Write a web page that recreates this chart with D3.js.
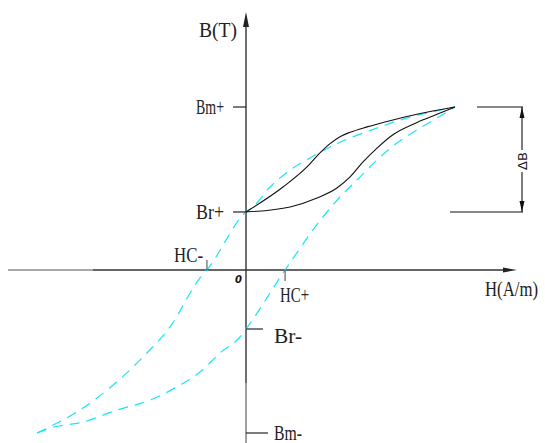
<!DOCTYPE html>
<html>
<head>
<meta charset="utf-8">
<script src="https://cdn.jsdelivr.net/npm/d3@7"></script>
<style>
  html, body { margin: 0; padding: 0; background: #fff; overflow: hidden; }
  #wrap { position: relative; width: 545px; height: 443px; }
  svg { display: block; position: absolute; left: 0; top: 0; }
  .lbl {
    position: absolute; white-space: nowrap;
    font-family: "Liberation Serif", "DejaVu Serif", serif;
    font-size: 20px; line-height: 20px; color: #222;
    transform-origin: 0 0;
  }
</style>
</head>
<body>
<div id="wrap"><svg id="chart" width="545" height="443"></svg></div>
<script>
// Field strength H (relative units, saturation = ±100) and induction B (relative, Bm = ±1)

// Major hysteresis loop, descending branch (from +saturation to -saturation)
const majorDownH = [-100, -90.4, -80.9, -71.3, -49.3, -36.4, -22, -18.7, 0, 3.3, 11.5, 21.1, 30.6, 40.2, 49.8, 62.7, 73.7, 84.7, 100];
const majorDownB = [-1.0, -0.939, -0.871, -0.785, -0.534, -0.35, -0.049, 0, 0.356, 0.387, 0.509, 0.613, 0.687, 0.755, 0.81, 0.871, 0.92, 0.957, 1.0];

// Major hysteresis loop, ascending branch (from -saturation to +saturation)
const majorUpH = [-100, -93.8, -78, -61.7, -45.9, -31.6, -22, -12.4, -2.9, 0, 18.7, 36.4, 45, 53.1, 62.7, 72.2, 81.8, 91.4, 100];
const majorUpB = [-1.0, -0.97, -0.933, -0.859, -0.798, -0.706, -0.626, -0.509, -0.411, -0.362, 0, 0.319, 0.448, 0.552, 0.675, 0.779, 0.859, 0.933, 1.0];

// Minor loop between Br+ and Bm+
const minorUpperH = [0, 17.7, 29.2, 35.4, 40.2, 45, 49.8, 57.9, 68.9, 81.8, 100];
const minorUpperB = [0.356, 0.509, 0.632, 0.718, 0.775, 0.818, 0.845, 0.878, 0.916, 0.955, 1.0];
const minorLowerH = [0, 21.1, 34, 43.5, 49.8, 56, 62.7, 70.3, 81.8, 91.4, 100];
const minorLowerB = [0.356, 0.387, 0.442, 0.503, 0.571, 0.663, 0.748, 0.83, 0.905, 0.955, 1.0];

// Characteristic points marked on the axes
const bTickLabels = ["Bm+", "Br+", "Br-", "Bm-"];
const bTickValues = [1.0, 0.356, -0.362, -1.0];
const hTickLabels = ["HC-", "HC+"];
const hTickValues = [-18.7, 18.7];

// Swing marked by the dimension line
const deltaTop = 1.0, deltaBottom = 0.356;

const svg = d3.select("#chart");
const wrap = d3.select("#wrap");
const x = d3.scaleLinear().domain([-100, 100]).range([37, 455]);
const y = d3.scaleLinear().domain([-1, 1]).range([433, 107]);
const x0 = x(0), y0 = y(0);

const axisColor = "#333";
const cyan = "#18e6f6";

// Condensed serif label: left edge at lx, baseline at ly, squeezed horizontally to `width`
const BASELINE = 16.75; // baseline offset inside a 20px line box for Liberation Serif
function label(txt, lx, ly, width) {
  const d = wrap.append("div").attr("class", "lbl").text(txt);
  const w = d.node().getBoundingClientRect().width;
  d.style("left", lx + "px")
   .style("top", (ly - BASELINE) + "px")
   .style("transform", `scaleX(${width / w})`);
  return d;
}

// ---- axes ----
svg.append("line").attr("x1", 8).attr("x2", 93).attr("y1", y0).attr("y2", y0)
  .attr("stroke", "#8a8a8a").attr("stroke-width", 1.4);
svg.append("line").attr("x1", 93).attr("x2", 506).attr("y1", y0).attr("y2", y0)
  .attr("stroke", axisColor).attr("stroke-width", 1.4);
svg.append("path").attr("d", `M517,${y0} L503,${y0 - 2.5} L503,${y0 + 2.5} Z`).attr("fill", "#222");

svg.append("line").attr("x1", x0).attr("x2", x0).attr("y1", 24).attr("y2", 383)
  .attr("stroke", axisColor).attr("stroke-width", 1.4);
svg.append("line").attr("x1", x0).attr("x2", x0).attr("y1", 383).attr("y2", 443)
  .attr("stroke", "#7a7a7a").attr("stroke-width", 1.4);
svg.append("path").attr("d", `M${x0},12 L${x0 - 3},27 L${x0 + 3},27 Z`).attr("fill", "#222");

// ---- curves ----
const line = d3.line().x(d => x(d[0])).y(d => y(d[1])).curve(d3.curveMonotoneX);
const zip = (a, b) => a.map((v, i) => [v, b[i]]);

[[majorDownH, majorDownB], [majorUpH, majorUpB]].forEach(([h, b]) => {
  svg.append("path").datum(zip(h, b)).attr("d", line)
    .attr("fill", "none").attr("stroke", cyan).attr("stroke-width", 1.2)
    .attr("stroke-dasharray", "10,7");
});
[[minorUpperH, minorUpperB], [minorLowerH, minorLowerB]].forEach(([h, b]) => {
  svg.append("path").datum(zip(h, b)).attr("d", line)
    .attr("fill", "none").attr("stroke", "#111").attr("stroke-width", 1.1);
});

// ---- B-axis marks ----
bTickLabels.forEach((lab, i) => {
  const v = bTickValues[i];
  const yy = y(v);
  const pos = v > 0;
  const sat = Math.abs(v) > 0.9;
  const len = pos ? 13 : (sat ? 22 : 17);
  svg.append("line")
    .attr("x1", pos ? x0 - len : x0).attr("x2", pos ? x0 : x0 + len)
    .attr("y1", yy).attr("y2", yy)
    .attr("stroke", "#111").attr("stroke-width", 1.1);
  const ly = pos ? yy + 7 : (sat ? yy + 7 : yy + 14);
  label(lab, pos ? 196 : 274, ly, 28);
});

// ---- H-axis marks ----
hTickLabels.forEach((lab, i) => {
  const v = hTickValues[i];
  const xx = x(v);
  const neg = v < 0;
  svg.append("line")
    .attr("x1", xx).attr("x2", xx)
    .attr("y1", neg ? y0 - 10 : y0).attr("y2", neg ? y0 : y0 + 11)
    .attr("stroke", "#555").attr("stroke-width", 1.1);
  label(lab, neg ? xx - 33 : xx - 5, neg ? y0 - 8 : y0 + 32, 29);
});

// origin
svg.append("text")
  .attr("x", 235).attr("y", 283)
  .attr("font-family", "DejaVu Sans, sans-serif").attr("font-style", "italic")
  .attr("font-weight", "bold")
  .attr("font-size", 10).attr("fill", "#111")
  .text("0");

// axis titles
label("B(T)", 199, 37, 38);
label("H(A/m)", 485, 296, 53);

// ---- ΔB dimension ----
const yTop = y(deltaTop), yBot = y(deltaBottom);
const dimX = 522;
svg.append("line").attr("x1", 477).attr("x2", dimX + 1).attr("y1", yTop).attr("y2", yTop)
  .attr("stroke", "#111").attr("stroke-width", 1.1);
svg.append("line").attr("x1", 450).attr("x2", dimX + 1).attr("y1", yBot).attr("y2", yBot)
  .attr("stroke", "#111").attr("stroke-width", 1.1);
svg.append("line").attr("x1", dimX).attr("x2", dimX).attr("y1", yTop).attr("y2", 150)
  .attr("stroke", "#111").attr("stroke-width", 1.1);
svg.append("line").attr("x1", dimX).attr("x2", dimX).attr("y1", 172).attr("y2", yBot)
  .attr("stroke", "#111").attr("stroke-width", 1.1);
svg.append("path").attr("d", `M${dimX},${yTop} L${dimX - 2.5},${yTop + 11} L${dimX + 2.5},${yTop + 11} Z`).attr("fill", "#111");
svg.append("path").attr("d", `M${dimX},${yBot} L${dimX - 2.5},${yBot - 11} L${dimX + 2.5},${yBot - 11} Z`).attr("fill", "#111");
svg.append("text")
  .attr("transform", `translate(${dimX + 5},161) rotate(-90)`)
  .attr("text-anchor", "middle")
  .attr("font-family", "DejaVu Sans, sans-serif").attr("font-size", 13).attr("fill", "#222")
  .text("ΔB");
</script>
</body>
</html>
